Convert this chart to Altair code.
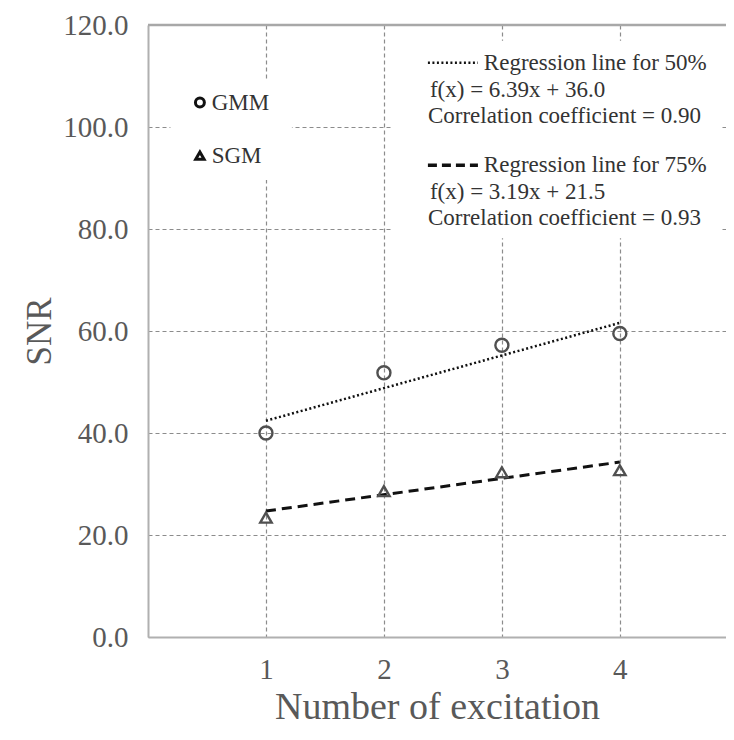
import altair as alt
import pandas as pd

# ---- data ----
excitation = [1, 2, 3, 4]
gmm_snr = [40.0, 51.8, 57.2, 59.5]
sgm_snr = [23.4, 28.6, 32.3, 32.7]
reg50_x = [1, 4]
reg50_y = [42.4, 61.6]
reg75_x = [1, 4]
reg75_y = [24.7, 34.3]
x_ticks = [1, 2, 3, 4]
y_ticks = [0, 20, 40, 60, 80, 100, 120]

legend_lines = [
    "Regression line for 50%",
    "f(x) = 6.39x + 36.0",
    "Correlation coefficient  = 0.90",
    "Regression line for 75%",
    "f(x) = 3.19x + 21.5",
    "Correlation coefficient  = 0.93",
]

FONT = "Liberation Serif"
GRAY = "#595959"
X_MAX = 4.9

xs = alt.Scale(domain=[0, X_MAX], nice=False, zero=False)
ys = alt.Scale(domain=[0, 120], nice=False)

common_axis = dict(grid=True, gridDash=[4, 3], gridColor="#8c8c8c", gridWidth=1.2,
                   ticks=False,
                   domainColor="#b0b0b0", domainWidth=2,
                   labelFont=FONT, titleFont=FONT, labelColor=GRAY, titleColor=GRAY,
                   labelFontSize=29, titleFontWeight="normal")
xaxis = alt.Axis(values=x_ticks, title="Number of excitation", titlePadding=4,
                 labelPadding=18, titleFontSize=38, **common_axis)
yaxis = alt.Axis(values=y_ticks, format=".1f", title="SNR", titlePadding=5,
                 labelPadding=20, titleFontSize=35, **common_axis)


def X(field):
    return alt.X(field, type="quantitative", scale=xs, axis=xaxis)


def Y(field):
    return alt.Y(field, type="quantitative", scale=ys, axis=yaxis)


pts = pd.DataFrame({
    "x": excitation * 2,
    "y": gmm_snr + sgm_snr,
    "method": ["GMM"] * 4 + ["SGM"] * 4,
})

# white boxes behind the legend texts
boxes = pd.DataFrame({"x": [0.19, 2.07], "x2": [1.22, 4.86],
                      "y": [109.0, 116.9], "y2": [89.6, 78.2]})
box_layer = alt.Chart(boxes).mark_rect(color="white").encode(
    x=X("x"), x2="x2", y=Y("y"), y2="y2")

# top border of the plot frame
top = alt.Chart(pd.DataFrame({"y": [120]})).mark_rule(
    color="#a8a8a8", strokeWidth=2.5).encode(y=Y("y"))

reg50 = alt.Chart(pd.DataFrame({"x": reg50_x, "y": reg50_y})).mark_line(
    color="#111111", strokeWidth=2.5, strokeDash=[2, 2.5]).encode(x=X("x"), y=Y("y"))
reg75 = alt.Chart(pd.DataFrame({"x": reg75_x, "y": reg75_y})).mark_line(
    color="#111111", strokeWidth=3, strokeDash=[10, 6]).encode(x=X("x"), y=Y("y"))

gmm_pts = alt.Chart(pts[pts.method == "GMM"]).mark_point(
    shape="circle", filled=False, color="#505050", size=170, strokeWidth=2.4,
    opacity=1).encode(x=X("x"), y=Y("y"))
sgm_pts = alt.Chart(pts[pts.method == "SGM"]).mark_point(
    shape="triangle-up", filled=False, color="#505050", size=130, strokeWidth=2.4,
    opacity=1).encode(x=X("x"), y=Y("y"))

# legend: symbols
leg_sym = pd.DataFrame({"x": [0.44, 0.44], "y": [104.8, 94.4]})
leg_circle = alt.Chart(leg_sym.iloc[[0]]).mark_point(
    shape="circle", filled=False, color="#111111", size=80, strokeWidth=3,
    opacity=1).encode(x=X("x"), y=Y("y"))
leg_tri = alt.Chart(leg_sym.iloc[[1]]).mark_point(
    shape="triangle-up", filled=False, color="#111111", size=70, strokeWidth=3,
    opacity=1).encode(x=X("x"), y=Y("y"))
leg_names = alt.Chart(pd.DataFrame({"x": [0.54, 0.54], "y": [104.8, 94.4],
                                    "t": ["GMM", "SGM"]})).mark_text(
    align="left", baseline="middle", font=FONT, fontSize=23, color="#333333").encode(
    x=X("x"), y=Y("y"), text="t:N")

# legend: regression line samples
s50 = alt.Chart(pd.DataFrame({"x": [2.373], "x2": [2.797], "y": [112.6]})).mark_rule(
    color="#111111", strokeWidth=2.5, strokeDash=[2, 2.5]).encode(x=X("x"), x2="x2", y=Y("y"))
s75 = alt.Chart(pd.DataFrame({"x": [2.373], "x2": [2.797], "y": [92.5]})).mark_rule(
    color="#111111", strokeWidth=3.5, strokeDash=[9, 5]).encode(x=X("x"), x2="x2", y=Y("y"))

leg_text = pd.DataFrame({
    "x": [2.847, 2.39, 2.373, 2.847, 2.39, 2.373],
    "y": [112.6, 107.3, 102.2, 92.5, 87.2, 82.1],
    "t": legend_lines,
})
leg_text_layer = alt.Chart(leg_text).mark_text(
    align="left", baseline="middle", font=FONT, fontSize=23, color="#333333").encode(
    x=X("x"), y=Y("y"), text="t:N")

chart = alt.layer(
    box_layer, top, reg50, reg75, gmm_pts, sgm_pts,
    leg_circle, leg_tri, leg_names, s50, s75, leg_text_layer,
).properties(
    width=578, height=612,
    autosize=alt.AutoSizeParams(type="none"),
    padding={"left": 140, "top": 17, "right": 0, "bottom": 94},
    background="white",
).configure_view(strokeOpacity=0, strokeWidth=0)

chart.save("out.html", embed_options={"renderer": "svg", "actions": False})
